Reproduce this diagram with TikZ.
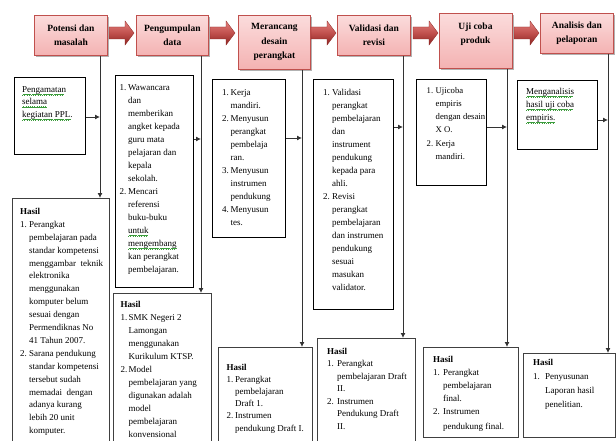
\documentclass[tikz,border=0pt]{standalone}
\usepackage{fontspec}
\setmainfont{Liberation Serif}
\usetikzlibrary{arrows.meta,shadows}
\definecolor{pinkT}{HTML}{FBDCDC}
\definecolor{pinkB}{HTML}{F4B2B2}
\definecolor{pinkD}{HTML}{C0504D}
\definecolor{arrT}{HTML}{E4817E}
\definecolor{arrM}{HTML}{C0504D}
\definecolor{arrB}{HTML}{8C2421}
\definecolor{sqgreen}{HTML}{3C9C3C}
\newlength\indw
\newbox\sqbox
\newcommand\lab[1]{\makebox[\indw][l]{#1}}
\newcommand\ind{\hspace*{\indw}}
\newcommand\squnit{\hbox{\rule[-2.9pt]{0.55pt}{0.45pt}\rule[-2.5pt]{0.55pt}{0.45pt}\rule[-2.1pt]{0.55pt}{0.45pt}\rule[-2.5pt]{0.55pt}{0.45pt}}}
\newcommand\sq[1]{\setbox\sqbox\hbox{#1}\rlap{\color{sqgreen}\leaders\squnit\hskip\wd\sqbox}#1}
\newcommand\barrow[2]{\path[blockarr] (#1,27) -- ({#2-9},27) -- ({#2-9},21) -- (#2,33) -- ({#2-9},45) -- ({#2-9},39) -- (#1,39) -- cycle;}
\begin{document}
\begin{tikzpicture}[x=1pt,y=-1pt,
  topbox/.style={draw=pinkD, line width=0.8pt, top color=pinkT, bottom color=pinkB,
    drop shadow={shadow xshift=1.2pt,shadow yshift=-1.5pt,opacity=0.3,fill=black},
    inner sep=0pt, anchor=north west},
  toptext/.style={font=\bfseries\fontsize{9.5}{14.5}\selectfont, align=center, inner sep=0pt},
  wbox/.style={draw=black, line width=0.8pt, fill=white, inner sep=0pt, anchor=north west},
  hbox/.style={draw=black!75, line width=1.2pt, fill=white, inner sep=0pt, anchor=north west},
  body/.style={align=left, inner sep=0pt, anchor=north west, font=\fontsize{9}{13}\selectfont},
  ind/.style={execute at begin node={\global\indw=#1\relax}},
  blockarr/.style={top color=arrT, bottom color=arrB, middle color=arrM, draw=arrB, line width=0.3pt},
  conn/.style={draw=black!80, line width=0.9pt, -{Latex[length=5pt,width=5pt]}}
]
\clip (0,0) rectangle (616,441);
\fill[white] (0,0) rectangle (616,441);

% top boxes
\node[topbox, toptext, minimum width=73, minimum height=40] (t1) at (34,15) {Potensi dan\\masalah};
\node[topbox, toptext, minimum width=72, minimum height=40] (t2) at (136,15) {Pengumpulan\\data};
\node[topbox, toptext, minimum width=72, minimum height=54] (t3) at (238,15) {Merancang\\desain\\perangkat};
\node[topbox, toptext, minimum width=73, minimum height=40] (t4) at (337,15) {Validasi dan\\revisi};
\node[topbox, minimum width=73, minimum height=55] (t5) at (439,13) {};
\node[toptext] (t5t) at (475.5,34) {Uji coba\\produk};
\node[topbox, toptext, minimum width=73, minimum height=40] (t6) at (540,13) {Analisis dan\\pelaporan};

% block arrows
\barrow{109}{134}
\barrow{210}{235}
\barrow{311}{336}
\barrow{413}{438}
\barrow{514}{539}

% second row boxes
\node[wbox, minimum width=71, minimum height=77] (a) at (14,77) {};
\node[wbox, minimum width=78, minimum height=212] (b) at (115,75) {};
\node[wbox, minimum width=73, minimum height=158] (c) at (212,79) {};
\node[wbox, minimum width=80, minimum height=230] (d) at (313,79) {};
\node[wbox, minimum width=70, minimum height=106] (e) at (416,79) {};
\node[wbox, minimum width=80, minimum height=69] (f) at (517,80) {};

% result boxes
\node[hbox, minimum width=97, minimum height=260] (h1) at (12,198) {};
\node[hbox, minimum width=98, minimum height=160] (h2) at (113,293) {};
\node[hbox, minimum width=94, minimum height=110] (h3) at (218,347) {};
\node[hbox, minimum width=98, minimum height=120] (h4) at (317,338) {};
\node[hbox, minimum width=95, minimum height=90] (h5) at (423,347) {};
\node[hbox, minimum width=92, minimum height=84] (h6) at (523,353) {};

% column coordinates
\coordinate (c1) at (100,117);
\coordinate (c2) at (201,139);
\coordinate (c3) at (302,138);
\coordinate (c4) at (403,127);
\coordinate (c5) at (507,127);
\coordinate (c6) at (608,120);

% connectors
\draw[conn] (t1.south -| c1) -- (h1.north -| c1);
\draw[conn] (t2.south -| c2) -- (h2.north -| c2);
\draw[conn] (t3.south -| c3) -- (h3.north -| c3);
\draw[conn] (t4.south -| c4) -- (h4.north -| c4);
\draw[conn] (t5.south -| c5) -- (h5.north -| c5);
\draw[conn] (t6.south -| c6) -- (h6.north -| c6);
\draw[conn] (a.east |- c1) -- (c1);
\draw[conn] (b.east |- c2) -- (c2);
\draw[conn] (c.east |- c3) -- (c3);
\draw[conn] (d.east |- c4) -- (c4);
\draw[conn] (e.east |- c5) -- (c5);
\draw[conn] (f.east |- c6) -- (c6);

% texts
\node[body, font=\fontsize{9}{12.5}\selectfont] (at) at (22,86) {\sq{Pengamatan}\\\sq{selama}\\\sq{kegiatan PPL.}};
\node[body, ind=8.5pt] (bt) at (119.5,84) {\lab{1.}Wawancara\\\ind dan\\\ind memberikan\\\ind angket kepada\\\ind guru mata\\\ind pelajaran dan\\\ind kepala\\\ind sekolah.\\\lab{2.}Mencari\\\ind referensi\\\ind buku-buku\\\ind \sq{untuk}\\\ind \sq{mengembang}\\\ind kan perangkat\\\ind pembelajaran.};
\node[body, ind=8.5pt] (ct) at (222,89) {\lab{1.}Kerja\\\ind mandiri.\\\lab{2.}Menyusun\\\ind perangkat\\\ind pembelaja\\\ind ran.\\\lab{3.}Menyusun\\\ind instrumen\\\ind pendukung\\\lab{4.}Menyusun\\\ind tes.};
\node[body, ind=9pt] (dt) at (323,89) {\lab{1.}Validasi\\\ind perangkat\\\ind pembelajaran\\\ind dan\\\ind instrument\\\ind pendukung\\\ind kepada para\\\ind ahli.\\\lab{2.}Revisi\\\ind perangkat\\\ind pembelajaran\\\ind dan instrumen\\\ind pendukung\\\ind sesuai\\\ind masukan\\\ind validator.};
\node[body, ind=9pt, font=\fontsize{8.7}{13.2}\selectfont] (et) at (426.5,87) {\lab{1.}Ujicoba\\\ind empiris\\\ind dengan desain\\\ind X O.\\\lab{2.}Kerja\\\ind mandiri.};
\node[body] (ft) at (526,88) {\sq{Menganalisis}\\\sq{hasil uji coba}\\\sq{empiris.}};

\node[body, ind=9pt, font=\fontsize{9}{12.9}\selectfont] (h1t) at (20,208) {\textbf{Hasil}\\\lab{1.}Perangkat\\\ind pembelajaran pada\\\ind standar kompetensi\\\ind menggambar\ \ teknik\\\ind elektronika\\\ind menggunakan\\\ind komputer belum\\\ind sesuai dengan\\\ind Permendiknas No\\\ind 41 Tahun 2007.\\\lab{2.}Sarana pendukung\\\ind standar kompetensi\\\ind tersebut sudah\\\ind memadai\ \ dengan\\\ind adanya kurang\\\ind lebih 20 unit\\\ind komputer.};
\node[body, ind=8pt] (h2t) at (120.5,301) {\textbf{Hasil}\\\lab{1.}SMK Negeri 2\\\ind Lamongan\\\ind menggunakan\\\ind Kurikulum KTSP.\\\lab{2.}Model\\\ind pembelajaran yang\\\ind digunakan adalah\\\ind model\\\ind pembelajaran\\\ind konvensional};
\node[body, ind=8.5pt, font=\fontsize{9}{12}\selectfont] (h3t) at (226.5,364) {\textbf{Hasil}\\\lab{1.}Perangkat\\\ind pembelajaran\\\ind Draft 1.\\\lab{2.}Instrumen\\[1.5pt]\ind pendukung Draft I.};
\node[body, ind=10pt, font=\fontsize{9}{12.5}\selectfont] (h4t) at (327,348) {\textbf{Hasil}\\\lab{1.}Perangkat\\\ind pembelajaran Draft\\\ind II.\\\lab{2.}Instrumen\\\ind Pendukung Draft\\\ind II.};
\node[body, ind=10pt] (h5t) at (433,356) {\textbf{Hasil}\\\lab{1.}Perangkat\\\ind pembelajaran\\\ind final.\\\lab{2.}Instrumen\\[2pt]\ind pendukung final.};
\node[body, ind=12pt, font=\fontsize{9}{14}\selectfont] (h6t) at (533,359) {\textbf{Hasil}\\\lab{1.}Penyusunan\\\ind Laporan hasil\\\ind penelitian.};
\end{tikzpicture}
\end{document}
